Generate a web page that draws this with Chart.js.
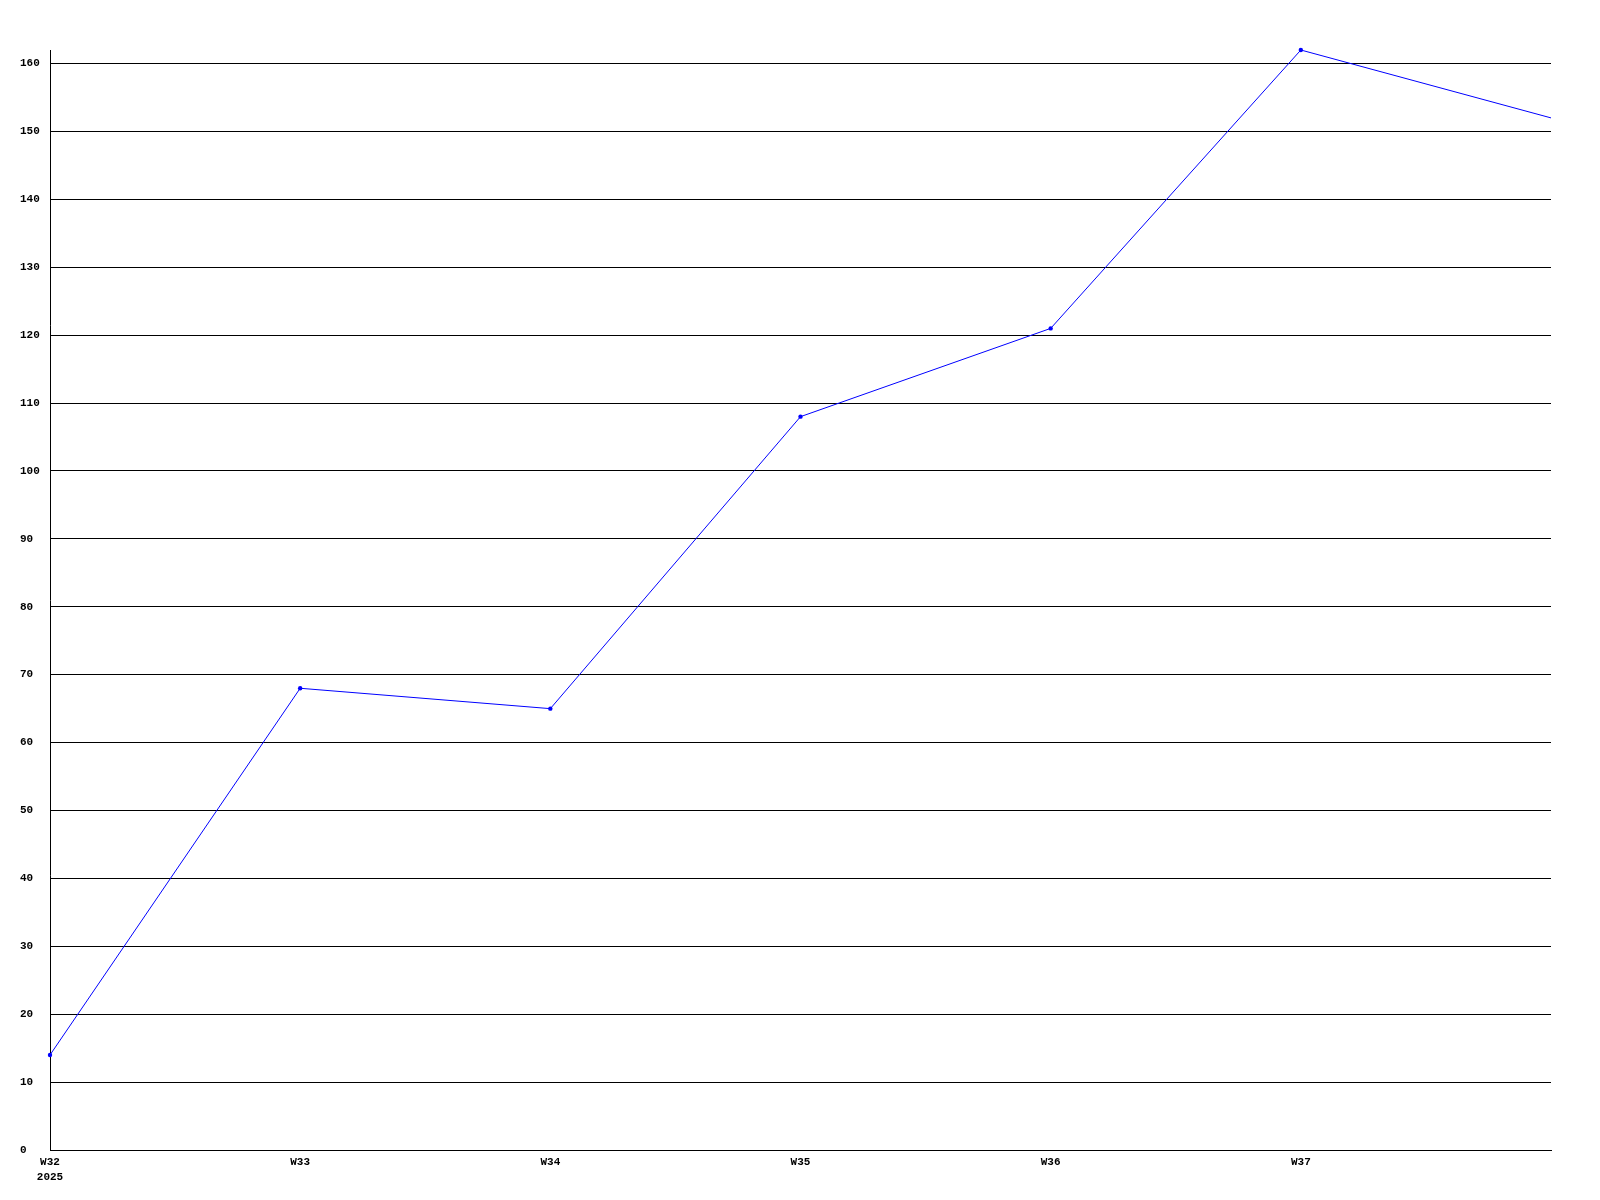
<!DOCTYPE html>
<html>
<head>
<meta charset="utf-8">
<script src="https://cdn.jsdelivr.net/npm/chart.js@4/dist/chart.umd.min.js"></script>
<style>
  html, body { margin: 0; padding: 0; background: #fff; }
  #wrap { width: 1600px; height: 1200px; }
</style>
</head>
<body>
<div id="wrap"><canvas id="weeklyChart" width="1600" height="1200"></canvas></div>
<script>
// ---------- data ----------
const weekLabels = ["W32", "W33", "W34", "W35", "W36", "W37", "W38"];
const yearLabel = "2025";
const weeklyValues = [14, 68, 65, 108, 121, 162, 152];
const yStep = 10;

const tickFont = { family: "'Liberation Mono', 'DejaVu Sans Mono', monospace", size: 11, weight: "bold", lineHeight: 1.35 };

let weeklyChart;

function renderWeekly() {
  const ctx = document.getElementById("weeklyChart");
  const lastIdx = weeklyValues.length - 1;
  weeklyChart = new Chart(ctx, {
    type: "line",
    data: {
      labels: weekLabels,
      datasets: [{
        data: weeklyValues,
        borderColor: "#0000ff",
        backgroundColor: "#0000ff",
        borderWidth: 1,
        pointRadius: (c) => (c.dataIndex === lastIdx ? 0 : 2.2),
        pointBorderWidth: 0,
        tension: 0,
        clip: false
      }]
    },
    options: {
      responsive: false,
      animation: false,
      layout: { padding: { left: 20, right: 49, top: 50, bottom: 0 } },
      plugins: { legend: { display: false }, tooltip: { enabled: false } },
      scales: {
        x: {
          type: "category",
          offset: false,
          grid: { display: false, drawTicks: false },
          border: { display: true, color: "#000", width: 1 },
          afterFit: (s) => { s.height = 50; },
          ticks: {
            color: "#000",
            font: tickFont,
            padding: 5,
            maxRotation: 0,
            autoSkip: false,
            callback: function (value, index) {
              if (index === lastIdx) return "";
              if (index === 0) return [weekLabels[0], yearLabel];
              return weekLabels[index];
            }
          }
        },
        y: {
          min: 0,
          max: Math.max(...weeklyValues),
          grid: { color: "#000", lineWidth: 1, drawTicks: false },
          border: { display: true, color: "#000", width: 1 },
          afterFit: (s) => { s.width = 30; },
          afterBuildTicks: (s) => {
            const t = [];
            for (let v = 0; v <= s.max; v += yStep) t.push({ value: v });
            s.ticks = t;
          },
          ticks: {
            stepSize: yStep,
            color: "#000",
            font: tickFont,
            crossAlign: "far",
            padding: 10
          }
        }
      }
    }
  });
}

document.addEventListener("DOMContentLoaded", renderWeekly);
</script>
</body>
</html>
